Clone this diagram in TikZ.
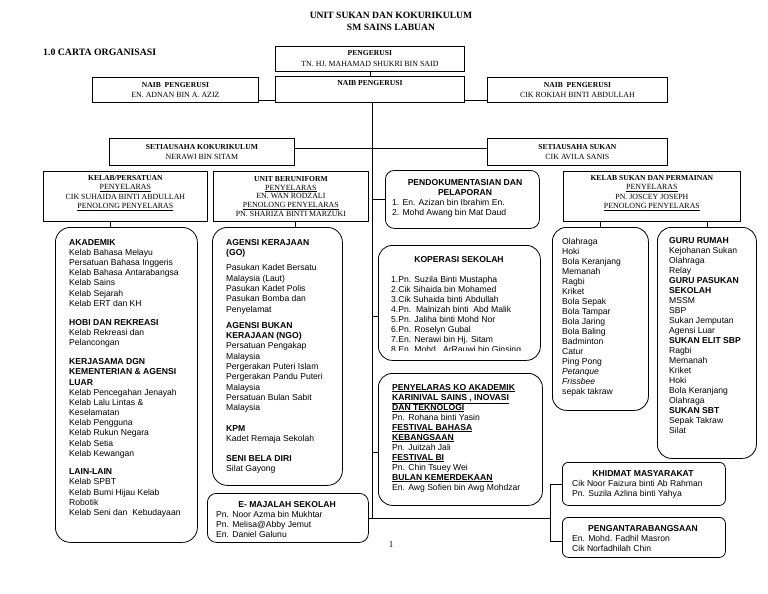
\documentclass[tikz,border=0pt]{standalone}
\usepackage{fontspec}
\setmainfont{Liberation Serif}
\newfontfamily\sansf{Liberation Sans}
\usetikzlibrary{positioning}

\newcommand{\hdr}[1]{{\fontsize{7.6}{9}\selectfont\bfseries #1}}
\newcommand{\garis}[1]{\underline{#1}}

\begin{document}
\begin{tikzpicture}
[x=1pt, y=-1pt,
 box/.style={draw, line width=0.8pt, inner sep=0pt, anchor=north west, align=center, font=\fontsize{7.9}{10}\selectfont},
 rbox/.style={draw, line width=0.8pt, inner sep=0pt, anchor=north west, rounded corners=#1},
 rbox/.default=12pt,
 isi/.style={inner sep=0pt, anchor=north west, align=left, font=\sansf\fontsize{8.6}{10}\selectfont},
 judul/.style={inner sep=0pt, anchor=north, align=center, font=\sansf\bfseries\fontsize{8.6}{10}\selectfont},
 garisan/.style={line width=0.8pt}]

\useasboundingbox (0,0) rectangle (768,594);

\node[inner sep=0pt, anchor=north, align=center, font=\bfseries\fontsize{9.6}{12}\selectfont] (judulutama) at (391,11.5) {UNIT SUKAN DAN KOKURIKULUM\\SM SAINS LABUAN};
\node[inner sep=0pt, anchor=west, font=\bfseries\fontsize{9.8}{12}\selectfont] (carta) at (43,52) {1.0 CARTA ORGANISASI};

% pengerusi dan naib pengerusi
\node[box, minimum width=189pt, minimum height=25pt, font=\fontsize{7.9}{11}\selectfont] (pengerusi) at (275,46) {\hdr{PENGERUSI}\\TN. HJ. MAHAMAD SHUKRI BIN SAID};
\node[box, minimum width=189pt, minimum height=26pt] (naib) at (275,76) {\hdr{NAIB PENGERUSI}\\ \strut};
\node[box, minimum width=166pt, minimum height=25pt] (naibkiri) at (92,77) {\hdr{NAIB\ \ PENGERUSI}\\EN. ADNAN BIN A. AZIZ};
\node[box, minimum width=180pt, minimum height=25pt] (naibkanan) at (487,77) {\hdr{NAIB\ \ PENGERUSI}\\CIK ROKIAH BINTI ABDULLAH};

% setiausaha
\node[box, minimum width=185pt, minimum height=27pt] (setiakoko) at (109,138) {\hdr{SETIAUSAHA KOKURIKULUM}\\NERAWI BIN SITAM};
\node[box, minimum width=180pt, minimum height=27pt] (setiasukan) at (487,138) {\hdr{SETIAUSAHA SUKAN}\\CIK AVILA SANIS};

\node[box, minimum width=164pt, minimum height=50pt, font=\fontsize{7.9}{9.4}\selectfont] (kelab) at (43,171) {\hdr{KELAB/PERSATUAN}\\\garis{PENYELARAS}\\CIK SUHAIDA BINTI ABDULLAH\\\garis{PENOLONG PENYELARAS}\\[-3pt]\strut};
\node[box, minimum width=155pt, minimum height=50pt, font=\fontsize{7.9}{8.8}\selectfont] (unif) at (213,171) {\hdr{UNIT BERUNIFORM}\\\garis{PENYELARAS}\\EN. WAN RODZALI\\\garis{PENOLONG PENYELARAS}\\PN. SHARIZA BINTI MARZUKI};
\node[box, minimum width=177pt, minimum height=50pt, font=\fontsize{7.9}{9.4}\selectfont] (kelabsukan) at (563,171) {\hdr{KELAB SUKAN DAN PERMAINAN}\\\garis{PENYELARAS}\\PN. JOSCEY JOSEPH\\\garis{PENOLONG PENYELARAS}\\[-3pt]\strut};

% kotak bulat
\node[rbox=15pt, minimum width=142pt, minimum height=315pt] (akademik) at (55,227) {};
\node[rbox=15pt, minimum width=130pt, minimum height=258pt] (agensi) at (212,227) {};
\node[rbox=9pt, minimum width=154pt, minimum height=58pt] (dokumen) at (385,170) {};
\node[rbox=14pt, minimum width=162pt, minimum height=115pt] (koperasi) at (378,245) {};
\node[rbox=14pt, minimum width=164pt, minimum height=132pt] (penyelaras) at (378,373) {};
\node[rbox=9pt, minimum width=161pt, minimum height=49pt] (majalah) at (207,493) {};
\node[rbox=14pt, minimum width=96pt, minimum height=183pt] (sukan) at (552,227) {};
\node[rbox=14pt, minimum width=99pt, minimum height=231pt] (guru) at (657,227) {};
\node[rbox=6pt, minimum width=163pt, minimum height=43pt] (khidmat) at (562,462) {};
\node[rbox=6pt, minimum width=163pt, minimum height=40pt] (antara) at (562,517) {};

\node[isi, font=\sansf\fontsize{8.6}{10.15}\selectfont] (akademiktxt) at (69,239.2) {\textbf{AKADEMIK}\\Kelab Bahasa Melayu\\Persatuan Bahasa Inggeris\\Kelab Bahasa Antarabangsa\\Kelab Sains\\Kelab Sejarah\\Kelab ERT dan KH\\[9pt]\textbf{HOBI DAN REKREASI}\\Kelab Rekreasi dan\\Pelancongan\\[9pt]\textbf{KERJASAMA DGN}\\\textbf{KEMENTERIAN \& AGENSI}\\\textbf{LUAR}\\Kelab Pencegahan Jenayah\\Kelab Lalu Lintas \&\\Keselamatan\\Kelab Pengguna\\Kelab Rukun Negara\\Kelab Setia\\Kelab Kewangan\\[8.5pt]\textbf{LAIN-LAIN}\\Kelab SPBT\\Kelab Bumi Hijau Kelab\\Robotik\\Kelab Seni dan\ \ Kebudayaan};

\node[isi, font=\sansf\fontsize{8.6}{10.3}\selectfont] (agensitxt) at (226,239) {\textbf{AGENSI KERAJAAN}\\\textbf{(GO)}\\[5pt]Pasukan Kadet Bersatu\\Malaysia\ (Laut)\\Pasukan Kadet Polis\\Pasukan Bomba dan\\Penyelamat\\[6pt]\textbf{AGENSI BUKAN}\\\textbf{KERAJAAN (NGO)}\\Persatuan Pengakap\\Malaysia\\Pergerakan Puteri\ Islam\\Pergerakan Pandu Puteri\\Malaysia\\Persatuan Bulan Sabit\\Malaysia\\[10pt]\textbf{KPM}\\Kadet Remaja Sekolah\\[10pt]\textbf{SENI BELA DIRI}\\Silat Gayong};

\node[judul] (dokumenjdl) at (465,179) {PENDOKUMENTASIAN DAN\\PELAPORAN};
\node[isi] (dokumentxt) at (392,199) {1. En. Azizan bin Ibrahim En.\\2. Mohd Awang bin Mat Daud};

\node[judul] (koperasijdl) at (459,256) {KOPERASI SEKOLAH};
\begin{scope}
\clip (koperasi.north west) rectangle ([yshift=10pt]koperasi.south east);
\node[isi] (koperasitxt) at (391,276) {1.Pn. Suzila Binti Mustapha\\2.Cik Sihaida bin Mohamed\\3.Cik Suhaida binti Abdullah\\4.Pn.\ \ Malnizah binti\ \ Abd Malik\\5.Pn. Jaliha binti Mohd Nor\\6.Pn. Roselyn Gubal\\7.En. Nerawi bin Hj. Sitam\\8.En. Mohd.\ \ ArRauwi bin Ginsing};
\end{scope}

\node[isi] (penyelarastxt) at (392,384) {\garis{\textbf{PENYELARAS KO AKADEMIK}}\\\garis{\textbf{KARINIVAL SAINS , INOVASI}}\\\garis{\textbf{DAN TEKNOLOGI}}\\Pn. Rohana binti Yasin\\\garis{\textbf{FESTIVAL BAHASA}}\\\garis{\textbf{KEBANGSAAN}}\\Pn. Juitzah Jali\\\garis{\textbf{FESTIVAL BI}}\\Pn. Chin Tsuey Wei\\\garis{\textbf{BULAN KEMERDEKAAN}}\\En. Awg Sofien bin Awg Mohdzar};

\node[judul] (majalahjdl) at (287,501) {E- MAJALAH SEKOLAH};
\begin{scope}
\clip (majalah.north west) rectangle ([yshift=6.5pt]majalah.south east);
\node[isi] (majalahtxt) at (216,511) {Pn. Noor Azma bin Mukhtar\\Pn. Melisa@Abby Jemut\\En. Daniel Galunu};
\end{scope}

\node[isi] (sukantxt) at (562,237.6) {Olahraga\\Hoki\\Bola Keranjang\\Memanah\\Ragbi\\Kriket\\Bola Sepak\\Bola Tampar\\Bola Jaring\\Bola Baling\\Badminton\\Catur\\Ping Pong\\\textit{Petanque}\\\textit{Frissbee}\\sepak takraw};
\node[isi] (gurutxt) at (669,237.6) {\textbf{GURU RUMAH}\\Kejohanan Sukan\\Olahraga\\Relay\\\textbf{GURU PASUKAN}\\\textbf{SEKOLAH}\\MSSM\\SBP\\Sukan Jemputan\\Agensi Luar\\\textbf{SUKAN ELIT SBP}\\Ragbi\\Memanah\\Kriket\\Hoki\\Bola Keranjang\\Olahraga\\\textbf{SUKAN SBT}\\Sepak Takraw\\Silat};

\node[judul] (khidmatjdl) at (643,470) {KHIDMAT MASYARAKAT};
\node[isi] (khidmattxt) at (572,480) {Cik Noor Faizura binti Ab Rahman\\Pn. Suzila Azlina binti Yahya};
\node[judul] (antarajdl) at (643,525) {PENGANTARABANGSAAN};
\node[isi] (antaratxt) at (572,535) {En. Mohd. Fadhil Masron\\Cik Norfadhilah Chin};

\node[inner sep=0pt, font=\fontsize{9}{10}\selectfont] (muka) at (391,545) {1};

% garisan
\coordinate (trunk) at ([xshift=2.5pt]naib.south);
\coordinate (spine) at ([xshift=-12pt]khidmat.west);
\draw[garisan] (pengerusi) -- (naib);
\draw[garisan] ([yshift=2pt]naibkiri.south east) -- ([yshift=2pt]naib.south west);
\draw[garisan] ([yshift=2pt]naib.south east) -- ([yshift=2pt]naibkanan.south west);
\draw[garisan] (trunk) -- (trunk |- majalah.east);
\draw[garisan] ([yshift=3.5pt]setiakoko.east) -- ([yshift=3.5pt]setiasukan.west);
\draw[garisan] (trunk |- dokumen.west) -- (dokumen.west);
\draw[garisan] ([yshift=-13.5pt]koperasi.west -| trunk) -- ([yshift=-13.5pt]koperasi.west);
\draw[garisan] ([yshift=-13pt]penyelaras.west -| trunk) -- ([yshift=-13pt]penyelaras.west);
\draw[garisan] (majalah.east) -- (majalah.east -| spine);
\draw[garisan] (khidmat.west) -- (spine) |- ([yshift=-3.5pt]antara.west);
\draw[garisan] ([xshift=-15pt]kelab.south) -- ([xshift=-15pt]kelab.south |- akademik.north);
\draw[garisan] ([xshift=4.5pt]unif.south) -- ([xshift=4.5pt]unif.south |- agensi.north);
\draw[garisan] (sukan.north |- kelabsukan.south) -- (sukan.north);
\draw[garisan] (guru.north |- kelabsukan.south) -- (guru.north);
\end{tikzpicture}
\end{document}
